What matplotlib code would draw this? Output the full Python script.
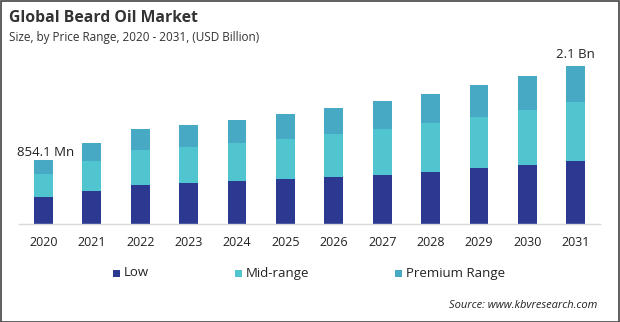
import numpy as np
import matplotlib
matplotlib.use('Agg')
import matplotlib.pyplot as plt
from matplotlib.patches import Rectangle

plt.rcParams['font.family'] = ['Open Sans', 'DejaVu Sans']

years = ['2020', '2021', '2022', '2023', '2024', '2025', '2026', '2027', '2028', '2029', '2030', '2031']
low = [0.355, 0.439, 0.518, 0.549, 0.572, 0.598, 0.625, 0.651, 0.691, 0.744, 0.784, 0.837]
mid = [0.307, 0.399, 0.465, 0.478, 0.509, 0.532, 0.576, 0.611, 0.655, 0.678, 0.731, 0.784]
premium = [0.192, 0.235, 0.279, 0.288, 0.302, 0.332, 0.342, 0.372, 0.381, 0.425, 0.452, 0.479]
series_names = ['Low', 'Mid-range', 'Premium Range']
colors = ['#2b3990', '#50c4cf', '#47a9c3']
first_label = '854.1 Mn'
last_label = '2.1 Bn'

W, H = 620, 322
fig = plt.figure(figsize=(W / 100, H / 100), dpi=100)
ax = fig.add_axes([19 / W, 1 - 224 / H, (600 - 19) / W, (224 - 50) / H])

x = np.arange(len(years))
bottom = np.zeros(len(years))
for vals, name, c in zip([low, mid, premium], series_names, colors):
    ax.bar(x, vals, width=0.39, bottom=bottom, color=c, label=name, zorder=2)
    bottom += np.array(vals)

ax.set_xlim(-0.506, 11.5)
ax.set_ylim(0, 174 * 2.1 / 158)
for s in ['top', 'right', 'left']:
    ax.spines[s].set_visible(False)
ax.spines['bottom'].set_color('#d9d9d9')
ax.spines['bottom'].set_linewidth(1)
ax.set_yticks([])
ax.set_xticks(x)
ax.set_xticklabels(years, fontsize=9, color='#222222')
ax.tick_params(axis='x', length=0, pad=9)

totals = bottom
ax.annotate(first_label, (0, totals[0]), xytext=(-19, 5), textcoords='offset points',
            ha='left', va='center', fontsize=9.5, color='#222222')
ax.annotate(last_label, (11, totals[-1]), xytext=(0, 8), textcoords='offset points',
            ha='center', va='center', fontsize=9.5, color='#222222')

fig.text(9 / W, 1 - 18 / H, 'Global Beard Oil Market', fontsize=11.3, fontweight='bold',
         color='#333333', ha='left', va='center')
fig.text(9 / W, 1 - 37 / H, 'Size, by Price Range, 2020 - 2031, (USD Billion)', fontsize=8.5,
         color='#333333', ha='left', va='center')

leg_x = [113, 235, 395]
for lx, name, c in zip(leg_x, series_names, colors):
    fig.patches.append(Rectangle((lx / W, 1 - 277 / H), 7 / W, 7 / H, transform=fig.transFigure,
                                 facecolor=c, edgecolor='none'))
    fig.text((lx + 11) / W, 1 - 273 / H, name, fontsize=9.5, color='#222222', ha='left', va='center')

fig.text(597 / W, 1 - 306 / H, 'Source: www.kbvresearch.com', fontsize=8, style='italic',
         color='#222222', ha='right', va='center')

fig.patches.append(Rectangle((0.5 / W, 0.5 / H), (W - 1.5) / W, (H - 1.5) / H, transform=fig.transFigure,
                             facecolor='none', edgecolor='#444444', linewidth=1.2))

fig.savefig('out.png', dpi=100)
